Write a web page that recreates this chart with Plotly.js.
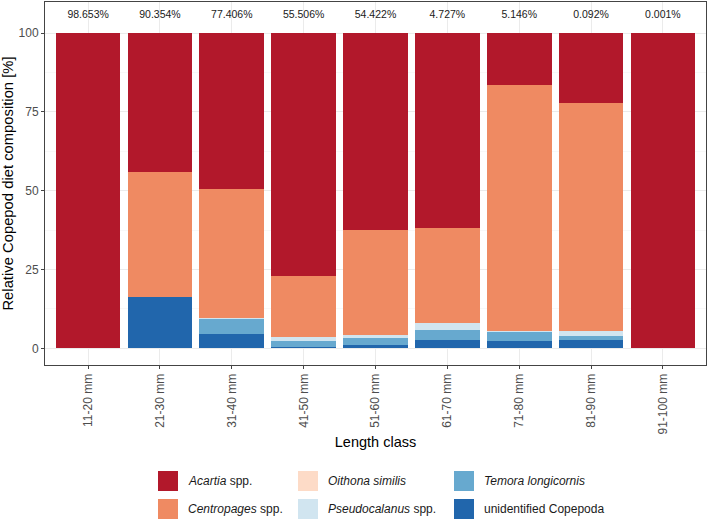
<!DOCTYPE html>
<html>
<head>
<meta charset="utf-8">
<script src="https://cdn.plot.ly/plotly-3.0.1.min.js"></script>
<style>
  html, body { margin: 0; padding: 0; background: #ffffff; }
  #chart { width: 709px; height: 520px; }
</style>
</head>
<body>
<div id="chart"></div>
<script>
// Length classes of the fish sampled
const lengthClasses = ['11-20 mm', '21-30 mm', '31-40 mm', '41-50 mm', '51-60 mm',
                       '61-70 mm', '71-80 mm', '81-90 mm', '91-100 mm'];

// Share of each length class in the total sample (printed above the bars)
const sampleShare = ['98.653%', '90.354%', '77.406%', '55.506%', '54.422%',
                     '4.727%', '5.146%', '0.092%', '0.001%'];

// Relative copepod diet composition [%] per length class
const acartia       = [100, 44.2, 49.4, 77.0, 62.4, 61.9, 16.3, 22.2, 100];
const centropages   = [0, 39.6, 41.0, 19.5, 33.4, 30.1, 78.2, 72.3, 0];
const oithona       = [0, 0, 0, 0, 0, 0, 0, 0, 0];
const pseudocalanus = [0, 0, 0.3, 1.3, 1.0, 2.1, 0.2, 1.5, 0];
const temora        = [0, 0, 4.8, 1.7, 2.2, 3.2, 3.0, 1.5, 0];
const unidentified  = [0, 16.2, 4.5, 0.5, 1.0, 2.7, 2.3, 2.5, 0];

const FONT = 'Liberation Sans, Arial, Helvetica, sans-serif';
const W = 709, H = 520;
const M = { l: 45, r: 3, t: 2, b: 155 };
const px2x = px => (px - M.l) / (W - M.l - M.r);
const py2y = py => (H - M.b - py) / (H - M.t - M.b);

// Groups, bottom of the stack first
const groups = [
  { label: 'unidentified Copepoda',        values: unidentified,  color: '#2166ac', col: 2, row: 1 },
  { label: '<i>Temora longicornis</i>',    values: temora,        color: '#67a9cf', col: 2, row: 0 },
  { label: '<i>Pseudocalanus</i> spp.',    values: pseudocalanus, color: '#d1e5f0', col: 1, row: 1 },
  { label: '<i>Oithona similis</i>',       values: oithona,       color: '#fddbc7', col: 1, row: 0 },
  { label: '<i>Centropages</i> spp.',      values: centropages,   color: '#ef8a62', col: 0, row: 1 },
  { label: '<i>Acartia</i> spp.',          values: acartia,       color: '#b2182b', col: 0, row: 0 }
];

const traces = groups.map(g => ({
  type: 'bar',
  name: g.label,
  x: lengthClasses,
  y: g.values,
  marker: { color: g.color, line: { width: 0 } },
  showlegend: false,
  hoverinfo: 'x+y+name'
}));

// Sample share labels along the top of the panel
traces.push({
  type: 'scatter',
  mode: 'text',
  x: lengthClasses,
  y: lengthClasses.map(() => 105.6),
  text: sampleShare,
  textposition: 'middle center',
  textfont: { family: FONT, size: 10.5, color: '#1a1a1a' },
  cliponaxis: false,
  showlegend: false,
  hoverinfo: 'skip'
});

// Legend: 3 columns x 2 rows of square keys with labels
const keyCols = [158, 298, 454];
const rowCenters = [481, 509];
const keySize = 20;
const shapes = [];
const annotations = [];
groups.forEach(g => {
  const kx = keyCols[g.col];
  const cy = rowCenters[g.row];
  shapes.push({
    type: 'rect', xref: 'paper', yref: 'paper',
    x0: px2x(kx), x1: px2x(kx + keySize),
    y0: py2y(cy + keySize / 2), y1: py2y(cy - keySize / 2),
    fillcolor: g.color, line: { width: 0 }, layer: 'above'
  });
  annotations.push({
    xref: 'paper', yref: 'paper',
    x: px2x(kx + keySize + 8), y: py2y(cy),
    xanchor: 'left', yanchor: 'middle',
    text: g.label, showarrow: false,
    font: { family: FONT, size: 12, color: '#1a1a1a' }
  });
});

const layout = {
  width: W, height: H,
  margin: M,
  paper_bgcolor: '#ffffff',
  plot_bgcolor: '#ffffff',
  font: { family: FONT, color: '#1a1a1a' },
  barmode: 'stack',
  bargap: 0.1,
  xaxis: {
    type: 'category',
    range: [-0.6, 8.6],
    showgrid: true, gridcolor: '#ebebeb', gridwidth: 1,
    ticks: 'outside', ticklen: 3, tickcolor: '#444444', tickwidth: 1,
    tickangle: -90,
    tickfont: { family: FONT, size: 12, color: '#4d4d4d' },
    showline: true, mirror: true, linecolor: '#444444', linewidth: 1,
    zeroline: false,
    title: { text: 'Length class', font: { family: FONT, size: 14.5, color: '#000000' }, standoff: 3 }
  },
  yaxis: {
    range: [-5.3, 109.9],
    tickvals: [0, 25, 50, 75, 100],
    showgrid: true, gridcolor: '#ebebeb', gridwidth: 1,
    minor: { tickvals: [12.5, 37.5, 62.5, 87.5], showgrid: true, gridcolor: '#f3f3f3', gridwidth: 0.6, ticks: '' },
    ticks: 'outside', ticklen: 3, tickcolor: '#444444', tickwidth: 1,
    tickfont: { family: FONT, size: 12, color: '#4d4d4d' },
    showline: true, mirror: true, linecolor: '#444444', linewidth: 1,
    zeroline: false,
    title: { text: 'Relative Copepod diet composition [%]', font: { family: FONT, size: 14.8, color: '#000000' }, standoff: 5 }
  },
  shapes: shapes,
  annotations: annotations
};

Plotly.newPlot('chart', traces, layout, { displayModeBar: false, staticPlot: true });
</script>
</body>
</html>
